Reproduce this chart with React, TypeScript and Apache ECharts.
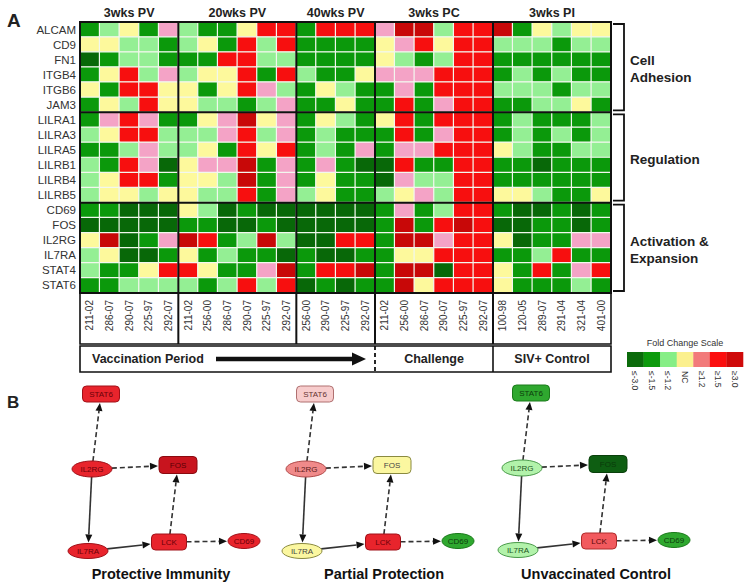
import React, { useEffect, useRef } from "react";
import * as echarts from "echarts";

// ---------- DATA ----------
const genes = ["ALCAM","CD9","FN1","ITGB4","ITGB6","JAM3","LILRA1","LILRA3","LILRA5","LILRB1","LILRB4","LILRB5","CD69","FOS","IL2RG","IL7RA","STAT4","STAT6"];
const geneGroupNames = [["Cell", "Adhesion"], ["Regulation"], ["Activation &", "Expansion"]];
const geneGroupSizes = [6, 6, 6];

const timepoints = ["3wks PV", "20wks PV", "40wks PV", "3wks PC", "3wks PI"];
const animals3PV = ["211-02","286-07","290-07","225-97","292-07"];
const animals20PV = ["211-02","256-00","286-07","290-07","225-97","292-07"];
const animals40PV = ["256-00","290-07","225-97","292-07"];
const animals3PC = ["211-02","256-00","286-07","290-07","225-97","292-07"];
const animals3PI = ["100-98","120-05","289-07","291-04","321-04","401-00"];
const animalGroups = [animals3PV, animals20PV, animals40PV, animals3PC, animals3PI];

const phases = ["Vaccination Period", "Challenge", "SIV+ Control"];

// fold-change category: -3 (<=-3.0), -2 (<=-1.5), -1 (<=-1.2), 0 (NC), 1 (>=1.2), 2 (>=1.5), 3 (>=3.0)
const scaleLevels = [-3, -2, -1, 0, 1, 2, 3];
const scaleLabels = ["≤-3.0", "≤-1.5", "≤-1.2", "NC", "≥1.2", "≥1.5", "≥3.0"];

const fcALCAM  = [-2,-1,0,-2,1, -1,-2,-2,0,2,2, -2,2,2,2, 1,3,3,-1,2,2, 3,-2,0,-1,0,0];
const fcCD9    = [0,0,-1,-1,-2, -1,0,-2,2,-1,2, -2,-2,-2,-2, 0,1,2,0,2,2, -1,-1,-1,-2,-1,-1];
const fcFN1    = [-3,-2,-1,-1,-2, -2,-2,2,2,-1,-1, -2,-2,-2,-2, 0,-1,-2,-1,2,2, -2,-2,-2,-2,-2,-2];
const fcITGB4  = [-2,0,2,-1,1, -1,0,0,2,-2,2, -1,-2,-2,0, 1,1,1,2,2,2, -2,-1,-2,-1,-2,-2];
const fcITGB6  = [0,-2,2,2,0, 0,-2,0,2,1,-1, -2,0,-1,-2, -2,1,-2,2,2,2, -1,-1,-1,-2,-1,-1];
const fcJAM3   = [-2,0,-1,2,0, 0,-1,-1,-2,-1,1, -2,-2,0,-2, -2,2,-2,1,2,2, -2,-2,-1,-1,0,-2];
const fcLILRA1 = [-2,1,2,1,-2, -2,0,1,3,0,1, -2,0,-1,-2, 0,2,-2,2,2,2, -2,-1,-2,-2,-2,-1];
const fcLILRA3 = [-1,0,2,2,-1, -1,-1,1,2,-1,1, -2,-1,-2,-2, -2,2,-2,1,2,2, -2,-1,-2,-1,-2,-1];
const fcLILRA5 = [-2,-2,-1,1,-1, -1,0,-2,2,0,2, -2,-1,-2,1, -2,1,1,2,2,2, 0,-1,-2,-2,-1,-1];
const fcLILRB1 = [-1,-2,2,1,-3, 0,1,1,3,-2,1, -2,1,-2,-3, -3,2,-2,-2,2,2, -2,-2,-3,-2,-2,-2];
const fcLILRB4 = [-1,0,2,2,-2, 0,0,-1,3,-2,1, -2,0,-2,-2, -3,1,-1,-1,2,2, -2,-2,-2,-2,-2,-2];
const fcLILRB5 = [-1,0,0,-1,0, 0,-1,-1,2,-2,1, -1,0,-2,-2, -1,0,1,-1,2,2, 0,0,-1,-2,-2,0];
const fcCD69   = [-2,-2,-3,-3,-3, 0,-1,-3,-2,-3,-3, -3,-3,-3,-3, -2,1,-2,-1,2,2, -2,-3,-3,-2,-3,-2];
const fcFOS    = [-3,-3,-3,-3,-3, -2,-2,-3,-3,-2,-3, -3,-3,-3,-3, -2,3,-2,2,3,2, -3,-3,-2,-2,-3,-2];
const fcIL2RG  = [0,3,-3,-2,1, 3,2,-2,-1,3,-1, -3,-3,2,2, -2,3,3,1,2,2, 0,-3,-2,-2,1,1];
const fcIL7RA  = [-1,0,-3,-3,-2, 0,-2,-1,-2,-2,-3, -2,-3,-3,-2, -2,0,0,2,2,2, -2,-2,-1,2,-2,-2];
const fcSTAT4  = [-1,-2,-2,0,2, 2,0,-2,-2,1,3, -2,2,2,3, -2,3,3,-3,2,2, 0,-2,2,-2,1,2];
const fcSTAT6  = [-2,-2,-1,-1,-1, -1,-2,-1,2,-1,2, -3,-2,-3,-2, -2,3,0,2,2,2, 0,-2,-2,-2,-1,-2];
const fcRows = [fcALCAM, fcCD9, fcFN1, fcITGB4, fcITGB6, fcJAM3, fcLILRA1, fcLILRA3, fcLILRA5,
  fcLILRB1, fcLILRB4, fcLILRB5, fcCD69, fcFOS, fcIL2RG, fcIL7RA, fcSTAT4, fcSTAT6];

// Network (panel B)
const netNodes = ["STAT6", "IL2RG", "FOS", "IL7RA", "LCK", "CD69"];
const netEdges: [string, string, boolean][] = [
  ["IL2RG", "STAT6", true], ["IL2RG", "FOS", true], ["IL2RG", "IL7RA", false],
  ["IL7RA", "LCK", false], ["LCK", "FOS", true], ["LCK", "CD69", true],
];
const netTitles = ["Protective Immunity", "Partial Protection", "Unvaccinated Control"];
const netProtective = ["red", "red", "dkred", "red", "red", "red"];
const netPartial = ["ltpink", "salmon", "nc", "nc", "red", "green"];
const netUnvaccinated = ["green", "ltgreen", "dkgreen", "ltgreen", "lightred", "green"];
const netStates = [netProtective, netPartial, netUnvaccinated];

// ---------- STYLE / LAYOUT ----------
const FONT = 'Arial, "Liberation Sans", sans-serif';
const heatColors: Record<number, string> = {
  [-3]: "#086808", [-2]: "#0b990b", [-1]: "#94ef94", [0]: "#fdf99c", [1]: "#f4a3c6", [2]: "#f70f0f", [3]: "#c80808",
};
const legendColors = ["#0b6b0b", "#0c9a0c", "#86ee86", "#fbf08e", "#f27a7a", "#fb0f0f", "#cf0a0a"];
const netPalette: Record<string, { fill: string; stroke: string; text: string }> = {
  dkgreen: { fill: "#0e5e12", stroke: "#0a400c", text: "#0a3a0a" },
  green: { fill: "#2fa82f", stroke: "#1a7a1a", text: "#0c3c0c" },
  ltgreen: { fill: "#b2f2aa", stroke: "#4a9a4a", text: "#225522" },
  nc: { fill: "#fbf7a0", stroke: "#8a8a40", text: "#444" },
  ltpink: { fill: "#f7cccc", stroke: "#b07070", text: "#663333" },
  salmon: { fill: "#f08a8a", stroke: "#b04848", text: "#5a1a1a" },
  lightred: { fill: "#f25a5e", stroke: "#b02a2a", text: "#5a0a0a" },
  red: { fill: "#e8242c", stroke: "#a01018", text: "#6a0008" },
  dkred: { fill: "#c8141e", stroke: "#8a0a10", text: "#5a0005" },
};
const nodeLayout: Record<string, { shape: string; cx: number; cy: number; w: number; h: number }> = {
  STAT6: { shape: "rect", cx: 101, cy: 394, w: 37, h: 16 },
  IL2RG: { shape: "ellipse", cx: 92, cy: 469, w: 40, h: 16 },
  FOS: { shape: "rect", cx: 178, cy: 465, w: 38, h: 17 },
  IL7RA: { shape: "ellipse", cx: 88, cy: 551, w: 40, h: 15 },
  LCK: { shape: "rect", cx: 169, cy: 542, w: 35, h: 16 },
  CD69: { shape: "ellipse", cx: 244, cy: 541, w: 32, h: 15 },
};
const netOffsets = [[0, 0], [214, 0], [430, -1]];
const netTitleX = [161, 384, 596];

const GL = 80, GT = 22, GW = 531, GH = 271;

function buildOption() {
  const allCols: string[] = [];
  const colLabel: string[] = [];
  animalGroups.forEach((g, gi) => g.forEach((a) => { allCols.push(gi + "|" + a); colLabel.push(a); }));
  const nCols = allCols.length;
  const cw = GW / nCols;
  const rh = GH / genes.length;

  const data: number[][] = [];
  fcRows.forEach((row, r) => row.forEach((v, c) => data.push([c, r, v])));

  const g: any[] = [];
  const line = (x1: number, y1: number, x2: number, y2: number, lw: number, dash?: number[]) =>
    g.push({ type: "line", z: 10, silent: true, shape: { x1, y1, x2, y2 }, style: { stroke: "#111", lineWidth: lw, lineDash: dash } });
  const text = (t: string, x: number, y: number, opts: any = {}) =>
    g.push({ type: "text", z: 11, silent: true, x, y, rotation: opts.rotation || 0,
      style: { text: t, fontFamily: FONT, fontSize: opts.size || 12, fontWeight: opts.weight || "normal",
        fill: opts.fill || "#222", align: opts.align || "center", verticalAlign: opts.va || "middle", lineHeight: opts.lh } });

  // panel letters
  text("A", 7, 20, { size: 19, weight: "bold", align: "left" });
  text("B", 7, 402, { size: 17, weight: "bold", align: "left" });

  // heatmap frame and group separators
  g.push({ type: "rect", z: 10, silent: true, shape: { x: GL, y: GT, width: GW, height: GH }, style: { fill: "none", stroke: "#111", lineWidth: 2 } });
  let start = 0;
  const bounds: number[] = [];
  animalGroups.forEach((grp, gi) => {
    const cx = GL + (start + grp.length / 2) * cw;
    text(timepoints[gi], cx, 13, { size: 12.5, weight: "bold" });
    start += grp.length;
    if (gi < animalGroups.length - 1) bounds.push(start);
  });
  bounds.forEach((b) => line(GL + b * cw, GT, GL + b * cw, 344, 2));
  let rs = 0;
  geneGroupSizes.forEach((n, gi) => {
    const y0 = GT + rs * rh, y1 = GT + (rs + n) * rh;
    if (gi > 0) line(GL, y0, GL + GW, y0, 2);
    // bracket
    g.push({ type: "polyline", z: 10, silent: true,
      shape: { points: [[613, y0 + 2], [624, y0 + 2], [624, y1 - 2], [613, y1 - 2]] },
      style: { fill: "none", stroke: "#111", lineWidth: 1.8 } });
    const names = geneGroupNames[gi];
    text(names.join("\n"), 630, (y0 + y1) / 2 + 2, { size: 13.5, weight: "bold", align: "left", lh: 17 });
    rs += n;
  });

  // label box and phase box
  g.push({ type: "rect", z: 10, silent: true, shape: { x: GL, y: GT + GH, width: GW, height: 344 - GT - GH }, style: { fill: "none", stroke: "#111", lineWidth: 1.6 } });
  g.push({ type: "rect", z: 10, silent: true, shape: { x: GL, y: 346, width: GW, height: 26 }, style: { fill: "none", stroke: "#111", lineWidth: 1.6 } });
  line(GL + bounds[2] * cw, 346, GL + bounds[2] * cw, 372, 1.8, [4, 3]);
  line(GL + bounds[3] * cw, 346, GL + bounds[3] * cw, 372, 1.6);
  text(phases[0], 92, 359, { size: 12.5, weight: "bold", align: "left" });
  g.push({ type: "line", z: 10, silent: true, shape: { x1: 216, y1: 359, x2: 356, y2: 359 }, style: { stroke: "#111", lineWidth: 4.5 } });
  g.push({ type: "polygon", z: 10, silent: true, shape: { points: [[352, 352.5], [366, 359], [352, 365.5]] }, style: { fill: "#111" } });
  text(phases[1], (GL + bounds[2] * cw + GL + bounds[3] * cw) / 2, 359, { size: 12.5, weight: "bold" });
  text(phases[2], (GL + bounds[3] * cw + GL + GW) / 2, 359, { size: 12.5, weight: "bold" });

  // legend
  text("Fold Change Scale", 685, 343, { size: 9, fill: "#333" });
  const lw = 116 / scaleLevels.length;
  scaleLevels.forEach((lv, i) => {
    g.push({ type: "rect", z: 10, silent: true, shape: { x: 627 + i * lw, y: 352, width: lw + 0.3, height: 15 }, style: { fill: legendColors[i] } });
    text(scaleLabels[i], 627 + (i + 0.5) * lw, 371, { size: 8.5, fill: "#333", align: "left", rotation: -Math.PI / 2 });
  });

  // network diagrams
  netStates.forEach((states, di) => {
    const [dx, dy] = netOffsets[di];
    const pos = (n: string) => { const L = nodeLayout[n]; return { ...L, cx: L.cx + dx, cy: L.cy + dy }; };
    const clip = (L: any, ux: number, uy: number) => {
      if (L.shape === "ellipse") return 1 / Math.sqrt((ux / (L.w / 2)) ** 2 + (uy / (L.h / 2)) ** 2);
      const tx = Math.abs(ux) > 1e-6 ? (L.w / 2) / Math.abs(ux) : Infinity;
      const ty = Math.abs(uy) > 1e-6 ? (L.h / 2) / Math.abs(uy) : Infinity;
      return Math.min(tx, ty);
    };
    netEdges.forEach(([a, b, dashed]) => {
      const A = pos(a), B = pos(b);
      const ddx = B.cx - A.cx, ddy = B.cy - A.cy, len = Math.hypot(ddx, ddy);
      const ux = ddx / len, uy = ddy / len;
      const ta = clip(A, ux, uy), tb = clip(B, ux, uy) + 1;
      const sx = A.cx + ux * ta, sy = A.cy + uy * ta;
      const ex = B.cx - ux * tb, ey = B.cy - uy * tb;
      const bx = ex - ux * 8, by = ey - uy * 8;
      g.push({ type: "line", z: 5, silent: true, shape: { x1: sx, y1: sy, x2: bx, y2: by },
        style: { stroke: "#333", lineWidth: 1.6, lineDash: dashed ? [5, 3] : undefined } });
      g.push({ type: "polygon", z: 5, silent: true,
        shape: { points: [[ex, ey], [bx - uy * 3.5, by + ux * 3.5], [bx + uy * 3.5, by - ux * 3.5]] }, style: { fill: "#111" } });
    });
    netNodes.forEach((n, ni) => {
      const L = pos(n);
      const c = netPalette[states[ni]];
      if (L.shape === "rect") {
        g.push({ type: "rect", z: 6, silent: true, shape: { x: L.cx - L.w / 2, y: L.cy - L.h / 2, width: L.w, height: L.h, r: 4 },
          style: { fill: c.fill, stroke: c.stroke, lineWidth: 1 } });
      } else {
        g.push({ type: "ellipse", z: 6, silent: true, shape: { cx: L.cx, cy: L.cy, rx: L.w / 2, ry: L.h / 2 },
          style: { fill: c.fill, stroke: c.stroke, lineWidth: 1 } });
      }
      g.push({ type: "text", z: 7, silent: true, x: L.cx, y: L.cy + 0.5,
        style: { text: n, fontFamily: FONT, fontSize: 8, fill: c.text, align: "center", verticalAlign: "middle" } });
    });
    text(netTitles[di], netTitleX[di], 574, { size: 14.5, weight: "bold", fill: "#111" });
  });

  return {
    animation: false,
    textStyle: { fontFamily: FONT },
    grid: { left: GL, top: GT, width: GW, height: GH },
    xAxis: {
      type: "category", data: allCols, position: "bottom",
      axisLine: { show: false }, axisTick: { show: false }, splitLine: { show: false },
      axisLabel: { rotate: 90, fontSize: 10, color: "#333", margin: 7, interval: 0,
        formatter: (v: string) => v.split("|")[1] },
    },
    yAxis: {
      type: "category", data: genes, inverse: true,
      axisLine: { show: false }, axisTick: { show: false }, splitLine: { show: false },
      axisLabel: { fontSize: 11.5, color: "#333", margin: 4, interval: 0 },
    },
    visualMap: {
      type: "piecewise", show: false, dimension: 2,
      pieces: scaleLevels.map((v) => ({ value: v, color: heatColors[v] })),
    },
    series: [{
      type: "heatmap", data,
      itemStyle: { borderColor: "#f2f7ee", borderWidth: 1.2 },
      emphasis: { disabled: true },
    }],
    graphic: { elements: g },
  };
}

export default function App() {
  const ref = useRef<HTMLDivElement>(null);
  useEffect(() => {
    document.body.style.margin = "0";
    const chart = echarts.init(ref.current!, null, { renderer: "svg" });
    chart.setOption(buildOption() as any);
    return () => chart.dispose();
  }, []);
  return <div ref={ref} style={{ width: 750, height: 586, background: "#fff" }} />;
}
